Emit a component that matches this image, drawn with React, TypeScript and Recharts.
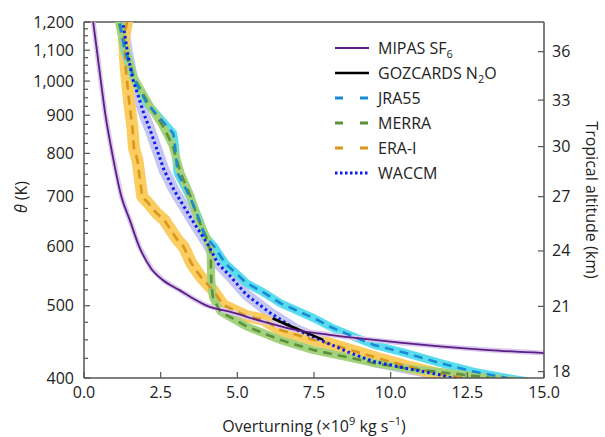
import React from "react";
import { ComposedChart, Line, XAxis, YAxis, ReferenceLine } from "recharts";

const FONT = "'Open Sans', 'Noto Sans', sans-serif";
const AXIS = "#555";
const TEXT = "#222";

// potential temperature theta (K) vs overturning (x10^9 kg/s)
const mipasTheta = [1200, 1100, 1000, 900, 800, 700, 650, 600, 560, 540, 525, 510, 500, 490, 476, 464, 457, 452, 446, 441, 436, 432];
const mipasFlux = [0.3, 0.42, 0.55, 0.7, 0.92, 1.22, 1.5, 1.8, 2.2, 2.6, 3.1, 3.6, 4.0, 4.8, 5.85, 6.9, 8.0, 9.0, 10.3, 11.6, 13.2, 15.0];

const gozTheta = [481, 470, 460, 450];
const gozFlux = [6.15, 6.7, 7.25, 7.8];

const jraTheta = [1250, 1200, 1100, 1010, 935, 851, 817, 753, 700, 658, 619, 600, 570, 553, 536, 521, 504, 481, 467, 456, 443, 432, 419, 408, 400, 395];
const jraFlux = [1.1, 1.17, 1.32, 1.62, 2.04, 2.91, 2.97, 3.05, 3.45, 3.72, 3.95, 4.25, 4.6, 4.95, 5.3, 5.85, 6.4, 7.5, 8.1, 8.7, 9.45, 10.5, 11.6, 12.7, 13.8, 14.6];

const merraTheta = [1250, 1200, 1142, 1010, 930, 874, 822, 753, 700, 658, 613, 589, 560, 540, 514, 499, 491, 469, 450, 436, 423, 419, 412, 406, 400, 395];
const merraFlux = [1.08, 1.14, 1.25, 1.63, 2.12, 2.55, 2.88, 3.15, 3.48, 3.69, 4.02, 4.13, 4.14, 4.15, 4.2, 4.35, 4.45, 5.3, 6.39, 7.48, 9.0, 9.43, 10.52, 11.93, 13.3, 14.3];

const eraTheta = [1260, 1200, 1142, 1041, 940, 865, 813, 784, 700, 689, 665, 652, 613, 600, 570, 547, 525, 501, 484, 479, 464, 450, 445, 436, 425, 415, 405, 400, 395];
const eraFlux = [1.45, 1.4, 1.3, 1.36, 1.47, 1.58, 1.63, 1.74, 1.9, 2.06, 2.37, 2.61, 3.04, 3.25, 3.5, 3.8, 4.2, 4.54, 5.3, 5.85, 6.4, 7.48, 8.0, 8.7, 9.6, 10.5, 11.6, 12.4, 13.2];

const wacTheta = [1250, 1190, 1096, 1010, 949, 902, 857, 818, 760, 715, 679, 645, 606, 570, 547, 517, 489, 464, 450, 434, 421, 412, 404, 400, 396];
const wacFlux = [1.22, 1.28, 1.41, 1.58, 1.79, 1.96, 2.17, 2.34, 2.61, 2.93, 3.26, 3.59, 4.02, 4.36, 4.78, 5.3, 6.07, 6.94, 7.7, 8.57, 9.43, 10.52, 11.6, 12.0, 12.8];

// axis ticks
const xTicks = [0, 2.5, 5, 7.5, 10, 12.5, 15];
const thetaTicks = [
  400, 425, 450, 475, 500, 525, 550, 575, 600, 625, 650, 675, 700, 725, 750, 775, 800,
  825, 850, 875, 900, 925, 950, 975, 1000, 1025, 1050, 1075, 1100, 1125, 1150, 1175, 1200,
];
// tropical altitude (km) and the theta level it sits at on the right axis
const altitudeKm = [18, 21, 24, 27, 30, 33, 36];
const altitudeTheta = [408, 499, 592, 700, 817, 943, 1095];

const pts = (theta: number[], flux: number[]) => theta.map((t, i) => ({ flux: flux[i], theta: t }));

const mipas = pts(mipasTheta, mipasFlux);
const goz = pts(gozTheta, gozFlux);
const jra = pts(jraTheta, jraFlux);
const merra = pts(merraTheta, merraFlux);
const era = pts(eraTheta, eraFlux);
const waccm = pts(wacTheta, wacFlux);

const fmtTheta = (v: number) => String(v).replace(/\B(?=(\d{3})+(?!\d))/g, ",");

const LeftTick = (props: any) => {
  const { x, y, payload } = props;
  const v = payload.value;
  const major = v % 100 === 0;
  const ax = x + 10;
  return (
    <g>
      <line x1={ax} x2={ax + (major ? 6 : 4)} y1={y} y2={y} stroke={AXIS} strokeWidth={1.2} />
      {major && (
        <text x={x} y={y} dy={5.5} textAnchor="end" fontSize={16} fontFamily={FONT} fill={TEXT}>
          {fmtTheta(v)}
        </text>
      )}
    </g>
  );
};

const RightTick = (props: any) => {
  const { x, y, payload } = props;
  const idx = altitudeTheta.indexOf(payload.value);
  const ax = x - 8;
  return (
    <g>
      <line x1={ax} x2={ax - 6} y1={y} y2={y} stroke={AXIS} strokeWidth={1.2} />
      <text x={x} y={y} dy={5.5} textAnchor="start" fontSize={16} fontFamily={FONT} fill={TEXT}>
        {idx >= 0 ? altitudeKm[idx] : ""}
      </text>
    </g>
  );
};

const BottomTick = (props: any) => {
  const { x, y, payload } = props;
  const ay = y - 6;
  return (
    <g>
      <line x1={x} x2={x} y1={ay} y2={ay - 6} stroke={AXIS} strokeWidth={1.2} />
      <text x={x} y={ay + 20} textAnchor="middle" fontSize={16} fontFamily={FONT} fill={TEXT}>
        {payload.value.toFixed(1)}
      </text>
    </g>
  );
};

const legendItems = [
  { label: <>MIPAS SF<sub style={{ fontSize: 11, lineHeight: 0 }}>6</sub></>, color: "#5a1e86", dash: "", width: 2 },
  { label: <>GOZCARDS N<sub style={{ fontSize: 11, lineHeight: 0 }}>2</sub>O</>, color: "#000", dash: "", width: 2.5 },
  { label: "JRA55", color: "#1a8ad4", dash: "8 17", width: 3 },
  { label: "MERRA", color: "#5e8f3c", dash: "8 17", width: 3 },
  { label: "ERA-I", color: "#d8961c", dash: "8 17", width: 3 },
  { label: "WACCM", color: "#0b18f0", dash: "2.5 2.5", width: 3 },
];

const bands = [
  { key: "wac-band", data: waccm, color: "#c6c6f4", width: 11 },
  { key: "era-band", data: era, color: "#fbcd60", width: 12 },
  { key: "jra-band", data: jra, color: "#58dcee", width: 8 },
  { key: "merra-band", data: merra, color: "#a3d27c", width: 8 },
  { key: "goz-band", data: goz, color: "#cfcfcf", width: 5 },
  { key: "mipas-band", data: mipas, color: "#dbc8ec", width: 5 },
];

const lines = [
  { key: "era", data: era, color: "#d8961c", width: 2.6, dash: "9 6", type: "linear" },
  { key: "merra", data: merra, color: "#5e8f3c", width: 2.6, dash: "9 6", type: "linear" },
  { key: "jra", data: jra, color: "#1a8ad4", width: 2.6, dash: "9 6", type: "linear" },
  { key: "wac", data: waccm, color: "#0b18f0", width: 3, dash: "2.5 3", type: "linear" },
  { key: "goz", data: goz, color: "#000", width: 2.5, dash: undefined, type: "monotone" },
  { key: "mipas", data: mipas, color: "#5a1e86", width: 1.8, dash: undefined, type: "monotone" },
];

export default function App() {
  return (
    <div style={{ position: "absolute", left: 0, top: 0, width: 605, height: 437, overflow: "hidden", background: "#fff" }}>
      <ComposedChart width={605} height={437} margin={{ top: 22, right: 21, left: 24, bottom: 28 }}>
        <XAxis
          type="number"
          dataKey="flux"
          domain={[0, 15]}
          ticks={xTicks}
          interval={0}
          allowDataOverflow
          height={31}
          tickSize={0}
          tickMargin={6}
          tickLine={false}
          axisLine={{ stroke: AXIS, strokeWidth: 1.5 }}
          tick={<BottomTick />}
          label={(p: any) => {
            const vb = p.viewBox;
            return (
              <text x={vb.x + vb.width / 2} y={vb.y + 54} textAnchor="middle" fontSize={16} fontFamily={FONT} fill={TEXT}>
                Overturning (×10
                <tspan dy={-7} fontSize={11}>9</tspan>
                <tspan dy={7}> kg s</tspan>
                <tspan dy={-7} fontSize={11}>−1</tspan>
                <tspan dy={7}>)</tspan>
              </text>
            );
          }}
        />
        <YAxis
          yAxisId="left"
          type="number"
          scale="log"
          domain={[400, 1200]}
          ticks={thetaTicks}
          interval={0}
          allowDataOverflow
          width={60}
          tickSize={0}
          tickMargin={10}
          tickLine={false}
          axisLine={{ stroke: AXIS, strokeWidth: 1.5 }}
          tick={<LeftTick />}
          label={() => (
            <text
              x={21}
              y={197}
              transform="rotate(-90, 21, 197)"
              textAnchor="middle"
              dominantBaseline="central"
              fontSize={16}
              fontFamily={FONT}
              fill={TEXT}
            >
              <tspan fontStyle="italic">θ</tspan> (K)
            </text>
          )}
        />
        <YAxis
          yAxisId="right"
          orientation="right"
          type="number"
          scale="log"
          domain={[400, 1200]}
          ticks={altitudeTheta}
          interval={0}
          allowDataOverflow
          width={40}
          tickSize={0}
          tickMargin={8}
          tickLine={false}
          axisLine={{ stroke: AXIS, strokeWidth: 1.5 }}
          tick={<RightTick />}
          label={() => (
            <text
              x={592}
              y={200}
              transform="rotate(90, 592, 200)"
              textAnchor="middle"
              dominantBaseline="central"
              fontSize={16}
              fontFamily={FONT}
              fill={TEXT}
            >
              Tropical altitude (km)
            </text>
          )}
        />
        <ReferenceLine yAxisId="left" y={1200} stroke={AXIS} strokeWidth={1.5} />
        {bands.map((b) => (
          <Line
            key={b.key}
            yAxisId="left"
            data={b.data}
            dataKey="theta"
            type="linear"
            stroke={b.color}
            strokeWidth={b.width}
            strokeLinejoin="round"
            dot={false}
            activeDot={false}
            isAnimationActive={false}
          />
        ))}
        {lines.map((l) => (
          <Line
            key={l.key}
            yAxisId="left"
            data={l.data}
            dataKey="theta"
            type={l.type as any}
            stroke={l.color}
            strokeWidth={l.width}
            strokeDasharray={l.dash}
            strokeLinejoin="round"
            dot={false}
            activeDot={false}
            isAnimationActive={false}
          />
        ))}
      </ComposedChart>
      {legendItems.map((it, i) => (
        <div
          key={i}
          style={{
            position: "absolute",
            left: 335,
            top: 36.3 + i * 24.9,
            height: 24,
            lineHeight: "24px",
            display: "flex",
            alignItems: "center",
            fontFamily: FONT,
            fontSize: 16,
            color: TEXT,
            whiteSpace: "nowrap",
          }}
        >
          <svg width={34} height={10} style={{ marginRight: 9 }}>
            <line x1={0} x2={34} y1={5} y2={5} stroke={it.color} strokeWidth={it.width} strokeDasharray={it.dash || undefined} />
          </svg>
          <span>{it.label}</span>
        </div>
      ))}
    </div>
  );
}
